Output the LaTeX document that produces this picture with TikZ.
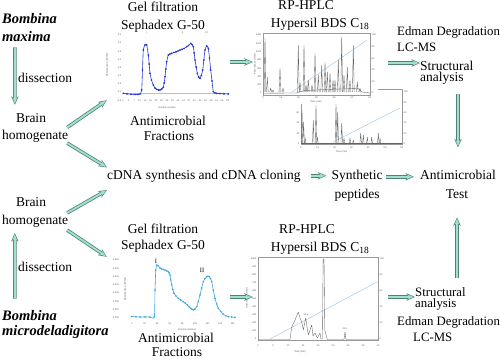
\documentclass[tikz,border=0pt]{standalone}
\usepackage{fontspec}
\setmainfont{Liberation Serif}
\setsansfont{Liberation Sans}
\usetikzlibrary{arrows.meta,calc}
\definecolor{arrowfill}{RGB}{160,224,208}
\definecolor{arrowedge}{RGB}{80,130,120}
\definecolor{gelblue}{RGB}{40,55,205}
\definecolor{gelcyan}{RGB}{62,165,218}
\definecolor{hplcgrey}{RGB}{100,100,100}
\definecolor{gradblue}{RGB}{160,200,235}
\begin{document}
\begin{tikzpicture}[x=1pt,y=-1pt,
  lbl/.style={font=\fontsize{13.5}{16}\selectfont, inner sep=0pt, anchor=base},
  lblw/.style={lbl, anchor=base west},
  lbls/.style={font=\fontsize{12.8}{15}\selectfont, inner sep=0pt, anchor=base west},
  sttxt/.style={font=\fontsize{13.5}{11}\selectfont, inner sep=0pt, align=left, anchor=north west},
  spc/.style={font=\fontsize{14.5}{16}\selectfont\bfseries\itshape, inner sep=0pt, anchor=base west},
  fat/.style={draw=arrowfill, line width=1.9pt, -{Stealth[length=6pt,width=4.6pt]}, shorten >=1.2pt,
    preaction={draw=arrowedge, line width=3.5pt, -{Stealth[length=8.5pt,width=7.4pt]}, shorten >=0pt}},
  area/.style={inner sep=0pt, draw=none},
  tiny/.style={font=\sffamily\fontsize{2.4}{2.6}\selectfont, inner sep=0pt, text=black!65},
  frm/.style={draw=black!40, line width=0.3pt, fill=white},
  pk/.style={draw=hplcgrey, line width=0.35pt, line join=round},
  grad/.style={draw=gradblue, line width=0.45pt},
]
\useasboundingbox[fill=white] (0,0) rectangle (500,359);

% ---------- chart 1 : gel filtration (top) ----------
\draw[gelblue!35, line width=0.4pt] (123,93.5) -- (228,93.5);
\foreach \v [count=\i from 0] in {3.5,3.0,2.5,2.0,1.5,1.0,0.5,0.0,-0.5}
  \node[tiny, anchor=east] at (121.5,35+\i*8.15) {\v};
\foreach \v [count=\i from 0] in {1,4,...,58}
  \node[tiny] at (123+\i*5.5,101) {\v};
\node[tiny, rotate=90] at (107,65) {Absorbance at 280nm};
\node[tiny] at (167,107.5) {Fraction number};
\node[tiny] at (146.5,33) {I};
\node[tiny] at (182.5,33) {II};
\node[tiny] at (206.5,33) {III};
\draw[gelblue, line width=0.6pt, mark=*, mark size=0.55pt, mark options={fill=gelblue}]
  plot[smooth, tension=0.4] coordinates {(123.3,93.3) (127,93.8) (131,94.3) (135,94.5) (138,94.5) (140,94) (141.7,90) (142.5,70) (143.3,50) (145,45) (146.7,45) (148.3,55) (149.2,64) (150,73.3) (151.5,80) (153.3,85) (155,88) (156.7,89.3) (158.3,90) (160,90) (161.7,89) (163.3,87.3) (164.2,83) (165,76.7) (165.8,69) (166.7,61.7) (168.3,55) (170,54) (171.7,53.3) (174,52.5) (176,51.8) (178,51) (180,50) (182,49.3) (184,48.5) (186.7,46.7) (188.5,45.5) (190.7,43.3) (192,44.5) (193.3,46.7) (194.2,53) (195,60) (196.2,67) (197.3,73.3) (198.7,77) (200,78.3) (201.3,75.5) (202.7,70) (203.8,60) (205,50) (206.7,46) (208.3,48.3) (209.5,58) (210.7,70) (212,81) (213.3,91.7) (215,93) (216.7,93.3) (220,93.6) (224,93.8) (228.3,94)};

% ---------- chart 4 : gel filtration (bottom) ----------
\foreach \v [count=\i from 0] in {3.500,3.000,2.500,2.000,1.500,1.000,0.500,0.000}
  \node[tiny, anchor=east] at (119,260+\i*8.24) {\v};
\node[tiny, rotate=90] at (125,289) {Absorbance at 280nm};
\foreach \v [count=\i from 0] in {1,21,41,61,81,101,121,141,161}
  \node[tiny] at (132+\i*12.6,324) {\v};
\node[tiny] at (187,330) {Fraction Number};
\draw[gelcyan, line width=0.6pt, mark=*, mark size=0.45pt, mark options={fill=gelcyan}]
  plot[smooth, tension=0.4] coordinates {(131.7,316.5) (136,316.8) (140,317) (145,317) (150,317) (154.3,316.8) (155,290) (155.8,270) (156.7,265) (158.3,266) (160,268) (161.7,269) (163.3,269.5) (165,270) (166.7,270.8) (168.3,271.7) (169.2,273) (170,275) (170.8,280) (171.7,285) (172.8,289.5) (174,293.3) (176,296) (178.3,298.3) (180.8,300) (183.3,301.7) (185.3,303.3) (187.3,305) (189,306.7) (190.7,308.3) (192,309.3) (193.3,310) (195,309) (196.7,306.7) (198.3,301.5) (200,295) (201.7,288) (203.3,281.7) (205,278.5) (206.7,276.7) (208,276.3) (209.3,276.7) (210.5,278.5) (211.7,281.7) (213.3,290) (215,298.3) (216.7,304) (218.3,308.3) (220.8,311.5) (223.3,314.3) (225.8,315.7) (228.3,316.7) (231.7,317) (235,317.3)};
\node[font=\fontsize{6.5}{7}\selectfont, inner sep=0pt] at (156,261) {I};
\node[font=\fontsize{6.5}{7}\selectfont, inner sep=0pt] at (202,270) {II};

% ---------- chart 3 : HPLC (behind) ----------
\draw[frm] (301,89) rectangle (402,144.5);
\foreach \v [count=\i from 0] in {100,80,60,40,20,0}
  \node[tiny, anchor=east] at (299.5,92+\i*10.3) {\v};
\foreach \v [count=\i from 0] in {100,80,60,40,20,0}
  \node[tiny, anchor=west] at (403.5,92+\i*10.3) {\v};
\foreach \v [count=\i from 0] in {0,10,20,30,40,50,60}
  \node[tiny] at (301+\i*16.8,147.5) {\v};
\node[tiny] at (341.5,151.5) {Time (min)};
\draw[grad] (333,142) -- (400,108);
\draw[pk] (301,143.5) -- (402,143.5);
\foreach \px/\py in {302/110,303.6/122,305.2/138,313.3/120,316/105,317.4/137,336/104,337.7/112,341.7/123,344/138,350/138,353.3/140,360.7/133,363.3/135,367.3/137,371.7/137,378.3/133,380/138}
  \draw[pk] (\px-0.8,143.5) -- (\px,\py) -- (\px+0.8,143.5);

% ---------- chart 2 : HPLC (top) ----------
\fill[white] (251,30) rectangle (378,104);
\draw[frm] (263,33) rectangle (370,95);
\foreach \v [count=\i from 0] in {1400,1200,1000,800,600,400,200,0}
  \node[tiny, anchor=east] at (261.5,35+\i*8.3) {\v};
\foreach \v [count=\i from 0] in {100,80,60,40,20,0}
  \node[tiny, anchor=west] at (371.5,35+\i*11.6) {\v};
\foreach \v [count=\i from 0] in {0,10,20,30,40,50,60}
  \node[tiny] at (263+\i*17.8,98) {\v};
\node[tiny, rotate=90] at (255,64) {Absorbance (mAU)};
\node[tiny] at (316,102) {Time (min)};
\draw[grad] (292,92) -- (367,40);
\draw[pk] (263,93.2) -- (296,93) -- (305,90.5) -- (340,89) -- (358,88.5) -- (362,92) -- (370,93);
\foreach \px/\py in {265/38,267.3/77,270.7/88,273/90,280/68,283/88,298.3/45,300/82,304/45,306/85,308.3/80,312/85,315/53,318.3/75,321.7/65,325/62,327.3/72,330/73,333/80,335/80,338.3/60,341.7/37,344/75,347.3/67,350/80,353.3/45,357.3/82,360/88}
  \draw[pk] (\px-0.9,92) -- (\px,\py) -- (\px+0.9,92);

% ---------- chart 5 : HPLC (bottom) ----------
\draw[frm] (258,257) rectangle (378,340);
\foreach \v [count=\i from 0] in {1000,900,800,700,600,500,400,300,200,100,0}
  \node[tiny, anchor=east] at (256.5,259+\i*8) {\v};
\foreach \v [count=\i from 0] in {100,80,60,40,20,0}
  \node[tiny, anchor=west] at (379.5,259+\i*16) {\v};
\foreach \v [count=\i from 0] in {0,5,10,15,20,25,30,35,40}
  \node[tiny] at (258+\i*15,346) {\v};
\node[tiny, rotate=90] at (247,298) {Absorbance (mAU)};
\node[tiny] at (300,352) {Time (min)};
\draw[grad] (270,339) -- (377,282);
\draw[pk] (258,339.5) -- (290,339.5) -- (291.7,327) -- (295,320) -- (298.3,312) -- (300,318) -- (301.7,322) -- (303.3,330) -- (305.7,318) -- (308.3,335) -- (311.7,325) -- (313,336) -- (315,333) -- (317.3,338) -- (320,333) -- (321,339) -- (322.5,339) -- (323.1,259) -- (324,259) -- (324.8,330) -- (327.3,339.5) -- (344,339.5) -- (345,331.7) -- (346,339.5) -- (378,339.5);
\node[tiny] at (306,315) {14.2};
\node[tiny] at (345,329) {29.1};

% ---------- chart areas (for connectors) ----------
\node[area, minimum width=123pt, minimum height=76pt] (gel1) at (168.5,62) {};
\node[area, minimum width=135pt, minimum height=60pt] (hplc1) at (320.5,63) {};
\node[area, minimum width=123pt, minimum height=80pt] (gel2) at (168.5,297) {};
\node[area, minimum width=135pt, minimum height=80pt] (hplc2) at (320.5,297) {};

% ---------- texts ----------
\node[spc] (bmA) at (2,23) {Bombina};
\node[spc] (bmB) at (2,41.5) {maxima};
\node[lblw] (dissA) at (18,82) {dissection};
\node[lbl] (brainA) at (31,122) {Brain};
\node[lbl] (homA) at (35,139) {homogenate};
\node[lbl] (gelA1) at (163,11.5) {Gel filtration};
\node[lbl] (gelA2) at (163,29) {Sephadex G-50};
\node[lbl] (fracA1) at (168,125) {Antimicrobial};
\node[lbl] (fracA2) at (169,140) {Fractions};
\node[lbl] (rpA1) at (306,9.8) {RP-HPLC};
\node[lbl] (rpA2) at (320,27) {Hypersil BDS C\textsubscript{18}};
\node[lbls] (edA) at (397,35.5) {Edman Degradation};
\node[lbls] (lcA) at (397,51.7) {LC-MS};
\node[sttxt] (stA) at (420,61.2) {Structural\\analysis};

\node[lblw] (cdna) at (107,179) {cDNA synthesis and cDNA cloning};
\node[lbl] (syn1) at (357,179) {Synthetic};
\node[lbl] (syn2) at (357,198) {peptides};
\node[lbl] (test1) at (458,179) {Antimicrobial};
\node[lbl] (test2) at (457,198) {Test};

\node[lbl] (brainB) at (31,206.7) {Brain};
\node[lbl] (homB) at (35,224) {homogenate};
\node[lblw] (dissB) at (18,271.7) {dissection};
\node[spc] (bmC) at (2,320) {Bombina};
\node[spc] (bmD) at (2,335.5) {microdeladigitora};
\node[lbl] (gelB1) at (163,233) {Gel filtration};
\node[lbl] (gelB2) at (163,249) {Sephadex G-50};
\node[lbl] (fracB1) at (176,342) {Antimicrobial};
\node[lbl] (fracB2) at (177,356.8) {Fractions};
\node[lbl] (rpB1) at (307,233) {RP-HPLC};
\node[lbl] (rpB2) at (320,251) {Hypersil BDS C\textsubscript{18}};
\node[sttxt, font=\fontsize{12.8}{11}\selectfont] (stB) at (415,287.6) {Structural\\analysis};
\node[lbls] (edB) at (397,325) {Edman Degradation};
\node[lbls] (lcB) at (413,341.7) {LC-MS};

% ---------- connectors ----------
\draw[fat] ($(bmB.south west)+(13,5.5)$) -- ($(brainA.north west)+(-1,-8)$);
\draw[fat] ($(homA.north east)+(-1,-2)$) -- (gel1.south west);
\draw[fat] ($(homA.south east)+(-1,1)$) -- ($(cdna.north west)+(0,-2)$);
\draw[fat] ($(homB.north east)+(-1,-1.5)$) -- ($(cdna.south west)+(0,8)$);
\draw[fat] ($(homB.south east)+(-1,3)$) -- (gel2.north west);
\draw[fat] ($(bmC.north west)+(13,-11)$) -- ($(homB.south west)+(13,6)$);
\draw[fat] (gel1.east) -- (gel1.east -| hplc1.west);
\draw[fat] (hplc1.east) -- (hplc1.east -| stA.west);
\draw[fat] ($(test1.north |- stA.south)+(0,9)$) -- ($(test1.north)+(0,-22)$);
\draw[fat] ($(test2.south |- stB.north)+(0,-10)$) -- ($(test2.south)+(0,19)$);
\draw[fat] ($(cdna.east)+(10,0)$) -- ($(cdna.east -| syn1.west)+(-5,0)$);
\draw[fat] ($(syn1.east)+(3,1)$) -- ($(syn1.east -| test1.west)+(-6,1)$);
\draw[fat] (gel2.east) -- (gel2.east -| hplc2.west);
\draw[fat] (hplc2.east) -- (hplc2.east -| stB.west);
\end{tikzpicture}
\end{document}
